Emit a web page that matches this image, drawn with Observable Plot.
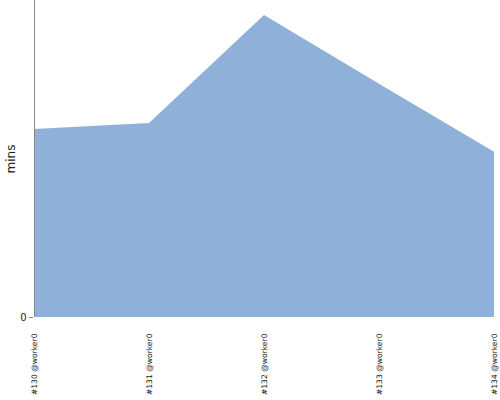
<!DOCTYPE html>
<html>
<head>
<meta charset="utf-8">
<script src="https://cdn.jsdelivr.net/npm/d3@7"></script>
<script src="https://cdn.jsdelivr.net/npm/@observablehq/plot@0.6"></script>
<style>
  html, body { margin: 0; padding: 0; background: #fff; }
</style>
</head>
<body>
<div id="chart"></div>
<script>
const runs = ["#130 @worker0", "#131 @worker0", "#132 @worker0", "#133 @worker0", "#134 @worker0"];
const mins = [59.3, 61.2, 95.3, 73.6, 52.1];
const yTicks = [0];

const data = runs.map((r, i) => ({run: r, mins: mins[i]}));

const chart = Plot.plot({
  width: 500,
  height: 400,
  marginLeft: 33,
  marginRight: 5,
  marginTop: 0,
  marginBottom: 83,
  style: {fontFamily: "DejaVu Sans", background: "#fff"},
  x: {type: "point", domain: runs, padding: 0},
  y: {domain: [0, 100]},
  marks: [
    Plot.areaY(data, {x: "run", y: "mins", fill: "#8fb1d9", curve: "linear"}),
    Plot.ruleX([runs[0]], {stroke: "#888", strokeWidth: 1, y1: 0, y2: 100}),
    Plot.ruleY([0], {stroke: "#888", strokeWidth: 1, x1: runs[0], x2: runs[4]}),
    Plot.axisY({ticks: yTicks, tickSize: 4, tickPadding: 3, stroke: "#888", fontSize: 10, fill: "#222", label: null}),
    Plot.axisX({tickSize: 0, tickPadding: 16, tickRotate: -90, fontSize: 7.6, fill: "#111", label: null}),
    Plot.text(["mins"], {frameAnchor: "left", textAnchor: "middle", dx: -22, rotate: -90, fontSize: 12, fill: "#222"})
  ]
});
document.getElementById("chart").appendChild(chart);
</script>
</body>
</html>
